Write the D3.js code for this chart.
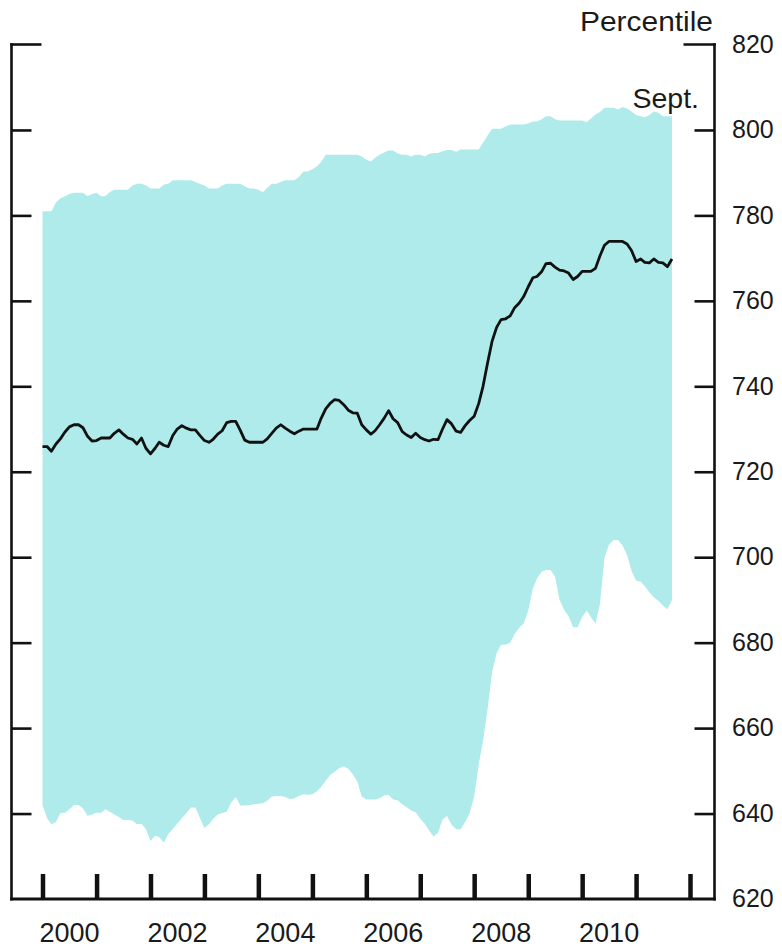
<!DOCTYPE html>
<html>
<head>
<meta charset="utf-8">
<script src="https://cdn.jsdelivr.net/npm/d3@7"></script>
<style>
  html, body { margin: 0; padding: 0; background: #fff; }
  svg { display: block; }
  text { font-family: "Liberation Sans", Arial, sans-serif; fill: #1a1a1a; }
</style>
</head>
<body>
<div id="chart"></div>
<script>
// Monthly data, January 2000 through September 2011 (credit score percentiles)
const startYear = 2000;
const startMonth = 0;

const upperValues = [
  781, 781, 781, 783, 784, 784.5, 785, 785.3, 785.3, 785.3, 784.5, 785,
  785.3, 784.5, 784.5, 785.5, 786, 786, 786, 786, 787, 787.4, 787.4, 787,
  786.3, 786.3, 786.3, 787.2, 787.4, 788.2, 788.2, 788.2, 788.2, 788.2, 787.8, 787.4,
  787, 786.3, 786.3, 786.3, 787, 787.4, 787.4, 787.4, 787.4, 786.8, 786.3, 786.3,
  786, 785.4, 786.5, 787.4, 787.4, 787.8, 788.2, 788.2, 788.2, 789, 790.3, 790.3,
  790.8, 791.5, 792.5, 794.2, 794.2, 794.2, 794.2, 794.2, 794.2, 794.2, 794.2, 793.8,
  793, 792.6, 793.5, 794.2, 794.7, 795.2, 795.2, 794.5, 794.2, 794.2, 793.8, 794.2,
  794.2, 793.8, 794.4, 794.6, 794.6, 795, 795.3, 795.3, 794.9, 795.4, 795.4, 795.4,
  795.4, 795.4, 797, 798.7, 800.3, 800.3, 800.3, 800.8, 801.3, 801.3, 801.3, 801.3,
  801.5, 802, 802, 802.5, 803.2, 803.2, 802.5, 802.2, 802.2, 802.2, 802.2, 802.2,
  802.2, 801.8, 802.7, 803.6, 804.2, 805.2, 805.2, 805.2, 804.8, 805.4, 805, 804.3,
  803.5, 803.2, 803, 803.5, 804.3, 804, 803.2, 803.2, 803.2
];

const medianValues = [
  725.9, 725.9, 724.8, 726.5, 727.7, 729.3, 730.5, 731, 731, 730.3, 728.3, 727.2,
  727.3, 727.9, 727.9, 727.9, 729, 729.8, 728.8, 727.9, 727.6, 726.5, 727.9, 725.5,
  724.2, 725.5, 726.9, 726.2, 725.9, 728.5, 730, 730.8, 730.2, 729.8, 729.8, 728.5,
  727.3, 726.9, 727.6, 728.8, 729.6, 731.5, 731.8, 731.8, 729.7, 727.4, 726.9, 726.9,
  726.9, 726.9, 727.7, 729, 730.2, 731, 730.2, 729.5, 728.9, 729.5, 730, 730,
  730, 730, 732.5, 734.7, 736, 736.9, 736.7, 735.7, 734.4, 733.8, 733.7, 731,
  729.8, 728.8, 729.6, 731, 732.5, 734.3, 732.4, 731.5, 729.4, 728.6, 728, 729,
  728, 727.5, 727.2, 727.6, 727.5, 730, 732.2, 731.2, 729.5, 729.2, 730.8, 732,
  733, 736, 740, 745.5, 750.5, 753.8, 755.6, 755.8, 756.5, 758.4, 759.5, 761,
  763.3, 765.4, 765.7, 766.8, 768.7, 768.8, 767.9, 767.2, 767, 766.5, 765, 765.7,
  766.9, 766.9, 766.9, 767.6, 770.5, 773, 773.9, 773.9, 773.9, 773.9, 773.3, 771.8,
  769.2, 769.8, 769, 768.9, 769.8, 769, 768.9, 768, 769.8
];

const lowerValues = [
  642, 638.9, 637.5, 638, 640.1, 640.2, 641, 642, 642, 641.2, 639.5, 639.8,
  640.2, 640.2, 641, 640.4, 639.8, 639.2, 638.5, 638.5, 638.4, 637.5, 637.6, 636.4,
  633.6, 634.8, 634.5, 633.2, 635.2, 636.4, 637.6, 638.9, 640.1, 641.4, 641.4, 639,
  636.6, 637.5, 638.7, 639.8, 640.1, 640.4, 642.5, 643.9, 641.9, 641.9, 642, 642.2,
  642.3, 642.4, 643, 644, 644.1, 644.1, 643.9, 643.4, 643.6, 644.1, 644.5, 644.4,
  644.5, 645.2, 646.2, 647.7, 649, 649.8, 650.6, 651.1, 650.5, 649.2, 647.5, 644,
  643.3, 643.3, 643.3, 643.6, 644.2, 644.4, 643.3, 643.1, 642.2, 641.5, 640.7, 640.3,
  638.8, 637.6, 636.1, 634.6, 635.5, 638.6, 639.4, 637.4, 636.3, 636.3, 638, 640,
  644, 651.5, 657, 664.5, 673, 677.5, 679.5, 679.5, 680, 682, 683.5, 684.5,
  687.5, 692.6, 695, 696.6, 697, 697, 695.5, 690, 687.7, 686.2, 683.6, 683.6,
  686, 687.5, 686, 684.5, 689, 699.8, 702.9, 704, 704, 702.8, 700.5, 696.8,
  694.5, 694.3, 693.2, 691.8, 690.6, 689.8, 688.7, 687.8, 690
];

const yTickValues = [640, 660, 680, 700, 720, 740, 760, 780, 800];
const yLabelValues = [620, 640, 660, 680, 700, 720, 740, 760, 780, 800, 820];
const yearTicks = [2000, 2001, 2002, 2003, 2004, 2005, 2006, 2007, 2008, 2009, 2010, 2011, 2012];
const yearLabels = [2000, 2002, 2004, 2006, 2008, 2010];
const unitLabel = "Percentile";
const endLabel = "Sept.";

const W = 782, H = 948;
const svg = d3.select("#chart").append("svg").attr("width", W).attr("height", H);

const x = d3.scaleTime()
  .domain([new Date(2000, 0, 1), new Date(2012, 0, 1)])
  .range([42.5, 690]);
const y = d3.scaleLinear().domain([620, 820]).range([899, 44.5]);

const data = upperValues.map((u, i) => ({
  date: new Date(startYear, startMonth + i, 1),
  upper: u,
  median: medianValues[i],
  lower: lowerValues[i]
}));

const leftX = 11.5, rightX = 714.5, bottomY = y(620), topY = y(820);

// band
svg.append("path")
  .datum(data)
  .attr("fill", "#aeebea")
  .attr("d", d3.area()
    .x(d => x(d.date))
    .y0(d => y(d.lower))
    .y1(d => y(d.upper)));

// median line
svg.append("path")
  .datum(data)
  .attr("fill", "none")
  .attr("stroke", "#111")
  .attr("stroke-width", 2.8)
  .attr("stroke-linejoin", "round")
  .attr("d", d3.line().x(d => x(d.date)).y(d => y(d.median)));

// left axis (ticks only)
const leftAxis = svg.append("g")
  .attr("transform", `translate(${leftX},0)`)
  .call(d3.axisRight(y).tickValues(yTickValues).tickSize(20).tickFormat(""));
leftAxis.select(".domain").remove();
leftAxis.selectAll("line").attr("stroke", "#111").attr("stroke-width", 2.6);

// right axis
const rightAxis = svg.append("g")
  .attr("transform", `translate(${rightX},0)`)
  .call(d3.axisRight(y).tickValues(yTickValues).tickSizeInner(-20).tickSizeOuter(0).tickPadding(18));
rightAxis.select(".domain").remove();
rightAxis.selectAll("line").attr("stroke", "#111").attr("stroke-width", 2.6);
rightAxis.selectAll("text").remove();

// right axis labels
svg.append("g").selectAll("text")
  .data(yLabelValues)
  .join("text")
  .attr("x", 732)
  .attr("y", d => y(d))
  .attr("dy", "0.33em")
  .attr("font-size", 25)
  .text(d => d);

// bottom axis ticks
const bottomAxis = svg.append("g")
  .attr("transform", `translate(0,${bottomY})`)
  .call(d3.axisTop(x)
    .tickValues(yearTicks.map(yy => new Date(yy, 0, 1)))
    .tickSize(25)
    .tickFormat(""));
bottomAxis.select(".domain").remove();
bottomAxis.selectAll("line").attr("stroke", "#111").attr("stroke-width", 4.5);

// year labels (centred in the year)
svg.append("g").selectAll("text")
  .data(yearLabels)
  .join("text")
  .attr("x", d => (x(new Date(d, 0, 1)) + x(new Date(d + 1, 0, 1))) / 2)
  .attr("y", 942)
  .attr("text-anchor", "middle")
  .attr("font-size", 27)
  .text(d => d);

// frame
const frame = svg.append("g").attr("stroke", "#111").attr("fill", "none");
frame.append("line").attr("x1", leftX).attr("x2", leftX).attr("y1", topY - 1.3).attr("y2", bottomY + 1.5).attr("stroke-width", 2.6);
frame.append("line").attr("x1", rightX).attr("x2", rightX).attr("y1", topY - 1.3).attr("y2", bottomY + 1.5).attr("stroke-width", 2.6);
frame.append("line").attr("x1", leftX - 1.3).attr("x2", rightX + 1.3).attr("y1", bottomY).attr("y2", bottomY).attr("stroke-width", 3.2);
frame.append("line").attr("x1", leftX - 1.3).attr("x2", leftX + 30).attr("y1", topY).attr("y2", topY).attr("stroke-width", 2.6);
frame.append("line").attr("x1", rightX - 31).attr("x2", rightX + 1.3).attr("y1", topY).attr("y2", topY).attr("stroke-width", 2.6);

// labels
svg.append("text")
  .attr("x", 713).attr("y", 31)
  .attr("text-anchor", "end")
  .attr("font-size", 28)
  .attr("textLength", 133)
  .attr("lengthAdjust", "spacingAndGlyphs")
  .text(unitLabel);

svg.append("text")
  .attr("x", 699).attr("y", 108)
  .attr("text-anchor", "end")
  .attr("font-size", 28.5)
  .text(endLabel);
</script>
</body>
</html>
